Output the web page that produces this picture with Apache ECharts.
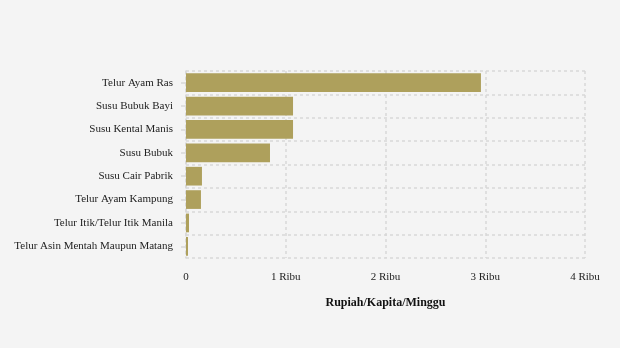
<!DOCTYPE html>
<html><head><meta charset="utf-8">
<script src="https://cdn.jsdelivr.net/npm/echarts@6/dist/echarts.min.js"></script>
<style>html,body{margin:0;padding:0;background:#f4f4f4}#c{width:620px;height:348px}</style>
</head><body><div id="c"></div>
<script>
const categories = ["Telur Ayam Ras","Susu Bubuk Bayi","Susu Kental Manis","Susu Bubuk","Susu Cair Pabrik","Telur Ayam Kampung","Telur Itik/Telur Itik Manila","Telur Asin Mentah Maupun Matang"];
const values = [2957, 1073, 1073, 842, 160, 150, 30, 20];
const xTicks = ["0","1 Ribu","2 Ribu","3 Ribu","4 Ribu"];
const axisName = "Rupiah/Kapita/Minggu";

const chart = echarts.init(document.getElementById('c'), null, {renderer:'canvas'});
const font = '"Liberation Serif", "Times New Roman", serif';
const dash = {color:'#d8d8d8',type:[3,3],width:1.5};
chart.setOption({
  backgroundColor:'#f4f4f4',
  animation:false,
  textStyle:{fontFamily:font},
  grid:{left:186,right:35,top:71,bottom:90,containLabel:false},
  xAxis:{type:'value',min:0,max:4000,interval:1000,
    name:axisName,nameLocation:'middle',nameGap:39,
    nameTextStyle:{fontFamily:font,fontSize:12,fontWeight:'bold',color:'#111'},
    axisLabel:{fontFamily:font,fontSize:11,color:'#222',margin:14,formatter:(v)=>xTicks[Math.round(v/1000)]},
    axisLine:{show:false},axisTick:{show:false},
    splitLine:{show:true,lineStyle:dash}},
  yAxis:{type:'category',data:categories,inverse:true,
    axisLabel:{fontFamily:font,fontSize:11,color:'#222',margin:13,padding:[2,0,0,0]},
    axisLine:{show:true,lineStyle:dash},
    axisTick:{show:true,alignWithLabel:true,length:5,lineStyle:{color:'#d8d8d8',width:1.5}},
    splitLine:{show:true,lineStyle:dash}},
  series:[{type:'bar',data:values,barCategoryGap:'20%',itemStyle:{color:'#aea05c'}}]
});
</script></body></html>
